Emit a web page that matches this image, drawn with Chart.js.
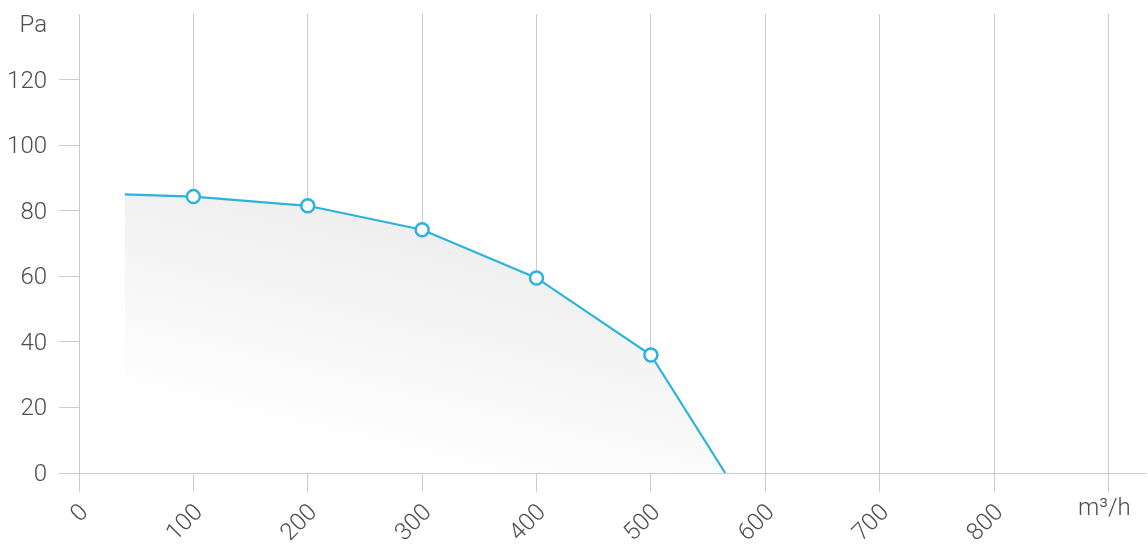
<!DOCTYPE html>
<html><head><meta charset="utf-8">
<script src="https://cdn.jsdelivr.net/npm/chart.js@4.4.1/dist/chart.umd.min.js"></script>
<style>html,body{margin:0;padding:0;background:#fff}#w{width:1148px;height:544px}</style>
</head><body><div id="w"><canvas id="c" width="1148" height="544"></canvas></div>
<script>
const airflow = [40, 100, 200, 300, 400, 500, 565];
const pressure = [85, 84.3, 81.5, 74.2, 59.5, 36, 0];
const markerSizes = [0, 6.5, 6.5, 6.5, 6.5, 6.5, 0];
const xTicks = [0, 100, 200, 300, 400, 500, 600, 700, 800, 900];
const xUnit = 'm³/h';
const yUnit = 'Pa';

const FONT = 'Roboto';
const TXT = '#4d4d4d';
const GRID = '#cccccc';
const BLUE = '#2ab4dc';

const unitPlugin = {
  id: 'units',
  afterDraw(chart) {
    const ctx = chart.ctx;
    const xs = chart.scales.x;
    ctx.save();
    ctx.fillStyle = TXT;
    ctx.font = '300 24px ' + FONT;
    ctx.textAlign = 'center';
    ctx.textBaseline = 'middle';
    ctx.fillText(xUnit, xs.getPixelForValue(900) - 4, 509);
    ctx.textAlign = 'right';
    ctx.fillText(yUnit, 47, 26);
    ctx.restore();
  }
};

new Chart(document.getElementById('c'), {
  type: 'line',
  data: {
    datasets: [{
      data: airflow.map((x, i) => ({x: x, y: pressure[i]})),
      borderColor: BLUE,
      borderWidth: 2.2,
      tension: 0,
      fill: 'origin',
      backgroundColor(ctx) {
        const ca = ctx.chart.chartArea;
        if (!ca) return '#f0f0f0';
        const g = ctx.chart.ctx.createLinearGradient(530, 190, 460, 480);
        g.addColorStop(0, '#eaeaea');
        g.addColorStop(1, '#ffffff');
        return g;
      },
      pointRadius: markerSizes,
      pointHoverRadius: markerSizes,
      pointBackgroundColor: '#ffffff',
      pointBorderColor: BLUE,
      pointBorderWidth: 2.5
    }]
  },
  options: {
    responsive: false,
    animation: false,
    layout: {padding: {top: 14, right: 3, left: 0, bottom: 0}},
    plugins: {legend: {display: false}, tooltip: {enabled: false}},
    scales: {
      x: {
        type: 'linear',
        min: 0,
        max: 932,
        afterBuildTicks(s) { s.ticks = xTicks.map(v => ({value: v})); },
        afterFit(s) { s.height = 71; s.paddingLeft = 0; s.paddingRight = 0; },
        grid: {color: GRID, lineWidth: 1, tickLength: 19, drawOnChartArea: true},
        border: {display: true, color: GRID, width: 1},
        ticks: {
          color: TXT,
          font: {family: FONT, size: 24, weight: 300},
          minRotation: 45, maxRotation: 45,
          padding: 7,
          labelOffset: 6,
          callback: v => v === 900 ? '' : String(v)
        }
      },
      y: {
        min: 0,
        max: 140,
        afterFit(s) { s.width = 79; s.paddingTop = 0; s.paddingBottom = 0; },
        grid: {
          drawOnChartArea: false,
          tickLength: 20,
          tickColor: c => (c.tick && c.tick.value === 140) ? 'rgba(0,0,0,0)' : GRID
        },
        border: {display: false},
        ticks: {
          stepSize: 20,
          color: TXT,
          font: {family: FONT, size: 24, weight: 300},
          padding: 12,
          labelOffset: 2,
          callback: v => v === 140 ? '' : String(v)
        }
      }
    }
  },
  plugins: [unitPlugin]
});
</script></body></html>
